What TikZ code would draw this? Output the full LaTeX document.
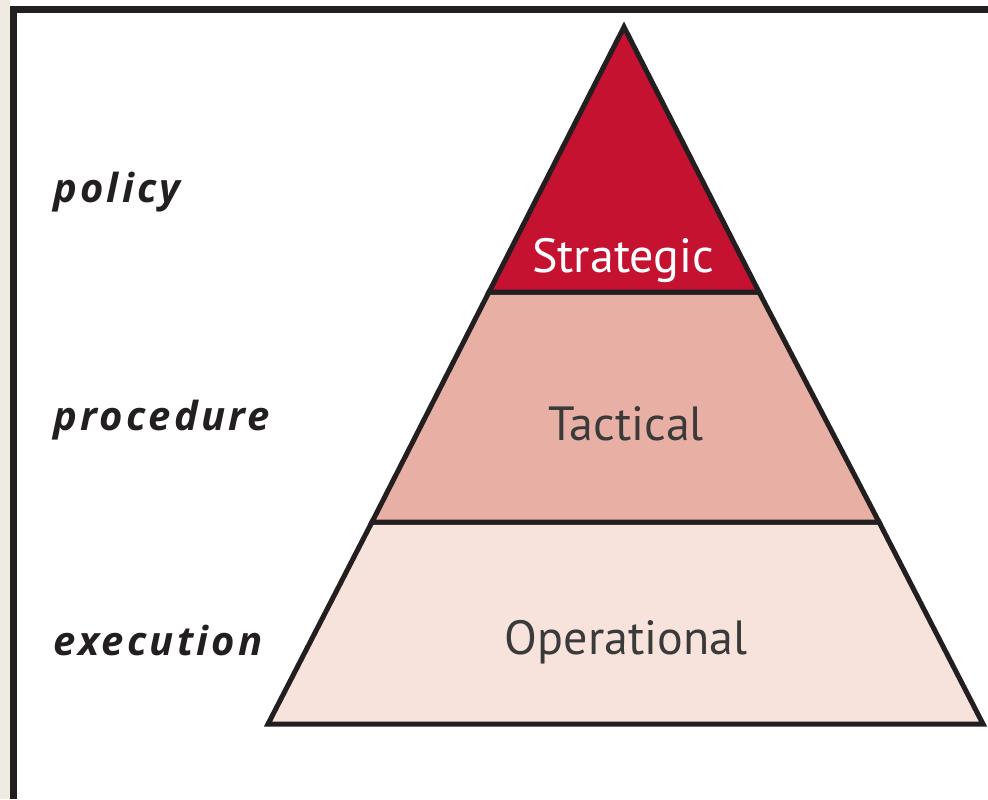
\documentclass[tikz,border=0pt]{standalone}
\usepackage{fontspec}
\setmainfont{PT Sans}
\newfontfamily\tagfont[LetterSpace=8]{Open Sans}
\usepackage{tikz}

\definecolor{strat}{HTML}{C41230}
\definecolor{tact}{HTML}{E8B0A4}
\definecolor{oper}{HTML}{F7E2DC}
\definecolor{ink}{HTML}{231F20}
\definecolor{txt}{HTML}{3A3A3A}
\definecolor{strip}{HTML}{EFEBE0}

\begin{document}
\begin{tikzpicture}[x=0.5pt,y=-0.5pt,line join=miter,
  band/.style={draw=ink,line width=2.5pt},
  lvl/.style={font=\fontsize{24}{28}\selectfont,text=txt,inner sep=0pt},
  tag/.style={font=\tagfont\fontsize{20}{24}\selectfont\bfseries\itshape,text=ink,anchor=west,inner sep=0pt}]
\useasboundingbox (0,0) rectangle (988,799);
\fill[white] (0,0) rectangle (988,799);
\fill[strip] (0,0) rectangle (10,799);
% frame
\draw[ink,line width=3.5pt] (13.5,799) -- (13.5,9) -- (988,9);
% pyramid corners
\coordinate (top) at (624,27);
\coordinate (sl) at (489,292);
\coordinate (sr) at (759,292);
\coordinate (tl) at (372,522);
\coordinate (tr) at (879,522);
\coordinate (bl) at (268,724);
\coordinate (br) at (983,724);
\filldraw[band,fill=oper] (tl) -- (tr) -- (br) -- (bl) -- cycle;
\filldraw[band,fill=tact] (sl) -- (sr) -- (tr) -- (tl) -- cycle;
\filldraw[band,fill=strat] (top) -- (sr) -- (sl) -- cycle;
% levels
\node[lvl,text=white] (strategic) at (623,260) {Strategic};
\node[lvl] (tactical) at (626,424) {Tactical};
\node[lvl] (operational) at (626,642) {Operational};
% tags
\node[tag] (policy) at (53,192) {policy};
\node[tag] (procedure) at (53,420) {procedure};
\node[tag] (execution) at (53,640) {execution};
\end{tikzpicture}
\end{document}
